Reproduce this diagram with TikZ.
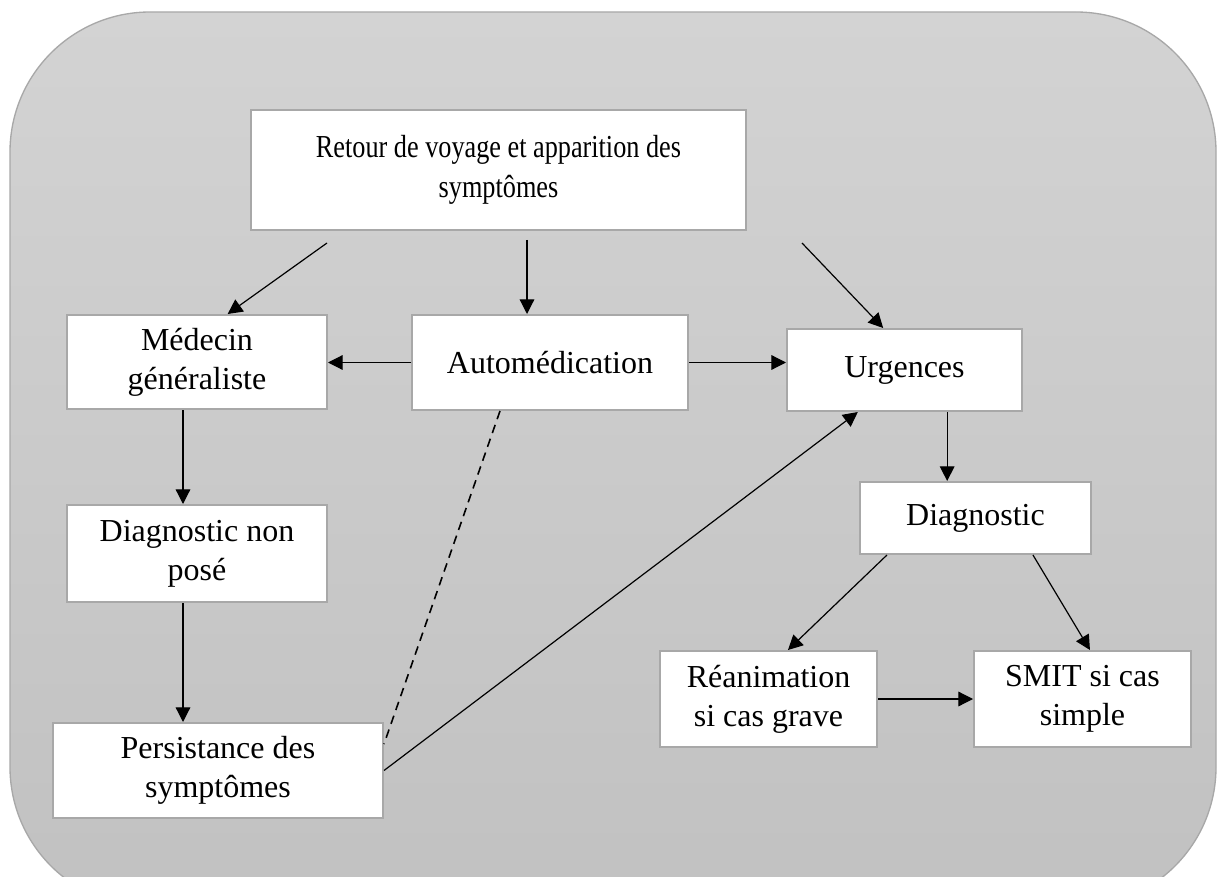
\documentclass[tikz,border=0pt]{standalone}
\usepackage{xcolor}
\usepackage{fontspec}
\setmainfont{Liberation Serif}
\newfontfamily\etroite[FakeStretch=0.82]{Liberation Serif}
\usepackage{tikz}
\usetikzlibrary{arrows,arrows.meta,calc}
\definecolor{cadre}{HTML}{A8A8A8}
\definecolor{fondhaut}{HTML}{D3D3D3}
\definecolor{fondbas}{HTML}{C1C1C1}
\tikzset{boite/.style={draw=cadre, line width=1.5pt, fill=white, align=center, inner sep=0pt,
  font=\fontsize{24}{29.5}\selectfont}}
\tikzset{fleche/.style={-{Triangle[length=11pt,width=11pt]}, line width=0.9pt}}

\begin{document}
\begin{tikzpicture}[x=0.75pt,y=-0.75pt]
\useasboundingbox (0,0) rectangle (1224,877);
\begin{scope}
\clip (0,0) rectangle (1224,877);
\shade[top color=fondhaut, bottom color=fondbas] [rounded corners=105pt] (10,12) rectangle (1216,907);
\draw[cadre, line width=1pt, rounded corners=105pt] (10,12) rectangle (1216,907);
\end{scope}
%\draw[help lines] (0,0) grid[step=100] (1224,877);
\node[boite, minimum width=371.25pt, minimum height=90pt, font=\etroite\fontsize{24}{30}\selectfont] (retour) at (498.5,170) {Retour de voyage et apparition des\\symptômes};
\node[boite, minimum width=195pt, minimum height=70.5pt] (medecin) at (197,362) {Médecin\\généraliste};
\node[boite, minimum width=207pt, minimum height=71.25pt] (automed) at (550,362.5) {Automédication};
\node[boite, minimum width=176.25pt, minimum height=61.5pt] (urgences) at (904.5,370) {Urgences};
\node[boite, minimum width=195pt, minimum height=72.75pt] (nonpose) at (197,553.5) {Diagnostic non\\posé};
\node[boite, minimum width=247.5pt, minimum height=71.25pt] (persist) at (218,770.5) {Persistance des\\symptômes};
\node[boite, minimum width=173.25pt, minimum height=54pt] (diagno) at (975.5,518) {Diagnostic};
\node[boite, minimum width=162.75pt, minimum height=72pt] (reanim) at (768.5,699) {Réanimation\\si cas grave};
\node[boite, minimum width=162.75pt, minimum height=72pt] (smit) at (1082.5,699) {SMIT si cas\\simple};
% departs libres sous le premier cadre
\coordinate (rm) at (327,243);
\coordinate (ra) at (527,240);
\coordinate (ru) at (802,243);
\draw[fleche] (rm) -- ([xshift=23pt]medecin.north);
\draw[fleche] (ra) -- (ra |- automed.north);
\draw[fleche] (ru) -- ([xshift=-16pt]urgences.north);
\draw[fleche] (automed.west) -- (automed.west -| medecin.east);
\draw[fleche] (automed.east) -- (automed.east -| urgences.west);
\draw[fleche] ([xshift=-10.5pt]medecin.south) -- ([xshift=-10.5pt]nonpose.north);
\draw[fleche] ([xshift=-10.5pt]nonpose.south) -- ([xshift=-10.5pt]nonpose.south |- persist.north);
\draw[line width=1.2pt, dash pattern=on 6.5pt off 4.5pt] ([xshift=-37.5pt]automed.south) -- ([yshift=-16.5pt]persist.north east);
\draw[fleche] (persist.east) -- ([xshift=-35pt]urgences.south);
\draw[fleche] ([xshift=32pt]urgences.south) -- ([xshift=32pt]urgences.south |- diagno.north);
\draw[fleche] ([xshift=-66.4pt]diagno.south) -- ([xshift=14.6pt]reanim.north);
\draw[fleche] ([xshift=43.1pt]diagno.south) -- ([xshift=5.6pt]smit.north);
\draw[fleche] (reanim.east) -- (smit.west);
\end{tikzpicture}
\end{document}
